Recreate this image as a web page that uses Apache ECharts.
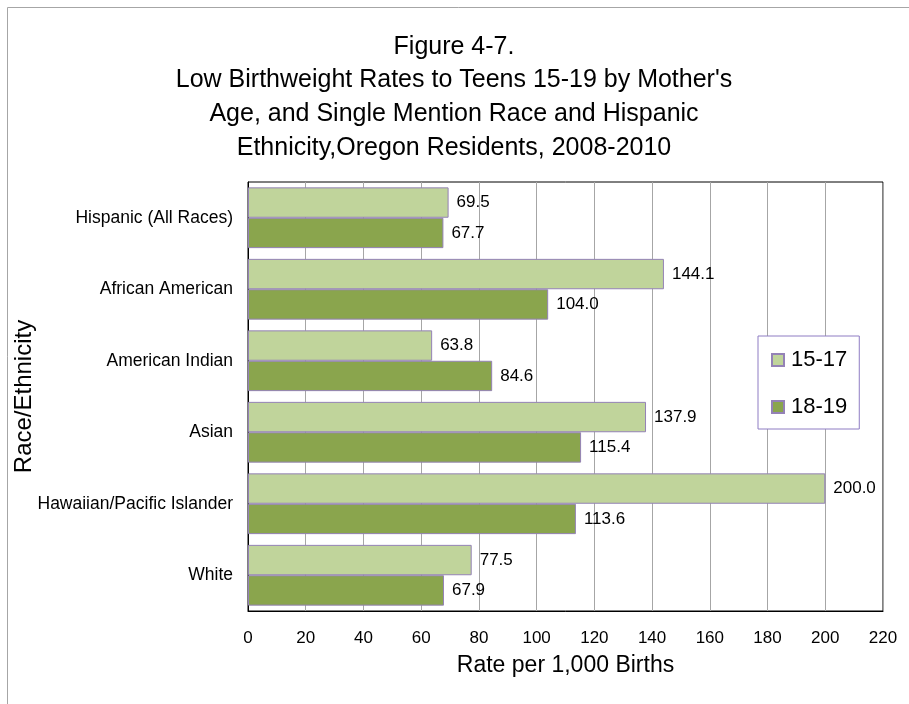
<!DOCTYPE html>
<html>
<head>
<meta charset="utf-8">
<script src="https://cdn.jsdelivr.net/npm/echarts@6/dist/echarts.min.js"></script>
<style>
  html, body { margin: 0; padding: 0; background: #fff; }
  #chart { width: 909px; height: 704px; }
</style>
</head>
<body>
<div id="chart"></div>
<script>
// 数据
var categories = ['Hispanic (All Races)', 'African American', 'American Indian', 'Asian', 'Hawaiian/Pacific Islander', 'White'];
var teens1517 = [69.5, 144.1, 63.8, 137.9, 200.0, 77.5];
var teens1819 = [67.7, 104.0, 84.6, 115.4, 113.6, 67.9];
var seriesNames = ['15-17', '18-19'];

var FONT = 'Liberation Sans, Arial, sans-serif';
var chart = echarts.init(document.getElementById('chart'), null, { renderer: 'canvas' });

// 数值标签
var labelStyle = {
  show: true,
  position: 'right',
  distance: 8,
  color: '#000',
  fontSize: 17,
  fontFamily: FONT,
  formatter: function (p) { return p.value.toFixed(1); }
};

var option = {
  backgroundColor: '#ffffff',
  animation: false,
  title: {
    text: 'Figure 4-7.\nLow Birthweight Rates to Teens 15-19 by Mother\'s\nAge, and Single Mention Race and Hispanic\nEthnicity,Oregon Residents, 2008-2010',
    left: 449,
    top: 25,
    textAlign: 'center',
    textStyle: {
      color: '#000',
      fontSize: 25,
      fontWeight: 'normal',
      fontFamily: FONT,
      lineHeight: 33.7
    }
  },
  // 外框
  graphic: [{
    type: 'rect',
    shape: { x: 7.5, y: 7.5, width: 1000, height: 1000 },
    style: { fill: 'none', stroke: '#a6a6a6', lineWidth: 1 },
    silent: true
  }],
  grid: {
    left: 248,
    top: 182,
    right: 26,
    bottom: 93,
    show: true,
    borderColor: '#000',
    borderWidth: 1,
    containLabel: false,
    outerBoundsMode: 'none'
  },
  legend: {
    orient: 'vertical',
    left: 758,
    top: 336,
    padding: [13, 12, 11, 13],
    backgroundColor: '#fff',
    borderColor: '#8e7cc3',
    borderWidth: 1,
    itemWidth: 12,
    itemHeight: 12,
    itemGap: 25,
    icon: 'rect',
    textStyle: {
      color: '#000',
      fontSize: 22,
      fontFamily: FONT,
      padding: [0, 0, 0, 2]
    },
    data: seriesNames
  },
  xAxis: {
    type: 'value',
    min: 0,
    max: 220,
    interval: 20,
    name: 'Rate per 1,000 Births',
    nameLocation: 'middle',
    nameGap: 43,
    nameMoveOverlap: false,
    nameTextStyle: {
      color: '#000',
      fontSize: 23,
      fontFamily: FONT
    },
    axisLine: { show: true, lineStyle: { color: '#000', width: 1 } },
    axisTick: { show: false },
    axisLabel: {
      color: '#000',
      fontSize: 17,
      margin: 19,
      fontFamily: FONT
    },
    splitLine: { show: true, lineStyle: { color: '#a6a6a6', width: 1 } }
  },
  yAxis: {
    type: 'category',
    inverse: true,
    data: categories,
    name: 'Race/Ethnicity',
    nameLocation: 'middle',
    nameGap: 212,
    nameRotate: 90,
    nameMoveOverlap: false,
    nameTextStyle: {
      color: '#000',
      fontSize: 24,
      fontFamily: FONT
    },
    axisLine: { show: true, lineStyle: { color: '#000', width: 1 } },
    axisTick: { show: false },
    axisLabel: {
      color: '#000',
      fontSize: 17.5,
      margin: 15,
      fontFamily: FONT
    },
    splitLine: { show: false }
  },
  series: [{
    name: seriesNames[0],
    type: 'bar',
    data: teens1517,
    barGap: '0%',
    barCategoryGap: '15%',
    itemStyle: { color: '#c0d49b', borderColor: '#9482b6', borderWidth: 1 },
    label: labelStyle
  }, {
    name: seriesNames[1],
    type: 'bar',
    data: teens1819,
    barGap: '0%',
    barCategoryGap: '15%',
    itemStyle: { color: '#8aa54d', borderColor: '#9482b6', borderWidth: 1 },
    label: labelStyle
  }]
};

chart.setOption(option);
</script>
</body>
</html>
